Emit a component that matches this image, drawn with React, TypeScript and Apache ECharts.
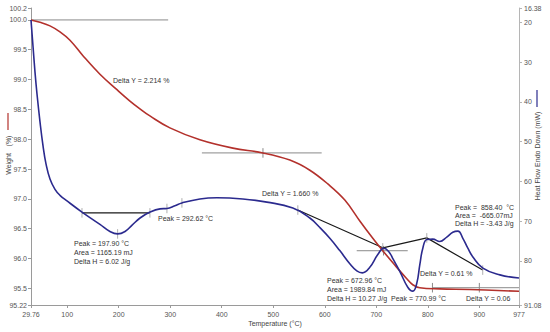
import React, { useEffect, useRef } from "react";
import * as echarts from "echarts";

// ---- Data ----
const TEMP_TICKS = [29.76, 100, 200, 300, 400, 500, 600, 700, 800, 900, 977];
const WEIGHT_TICKS = [95.22, 95.5, 96.0, 96.5, 97.0, 97.5, 98.0, 98.5, 99.0, 99.5, 100.0, 100.2];
const HEAT_TICKS = [16.38, 20, 30, 40, 50, 60, 70, 80, 91.08];

// Weight (%) vs temperature (°C)
const WEIGHT_DATA: [number, number][] = [
  [29.76, 100.0], [47.2, 99.96], [66.6, 99.9], [86, 99.8], [105.4, 99.66], [130.6, 99.4],
  [163.6, 99.09], [196.6, 98.83], [221.8, 98.64], [241.2, 98.51], [260.6, 98.39], [299.4, 98.19],
  [357.6, 97.99], [421.6, 97.85], [479.8, 97.77], [532.2, 97.65], [571, 97.48], [605.9, 97.25],
  [638.9, 96.98], [668, 96.63], [693.2, 96.34], [712.6, 96.13], [735.9, 95.89], [759.2, 95.66],
  [770.8, 95.56], [784.4, 95.51], [823.2, 95.49], [881.4, 95.48], [977, 95.45],
];

// Heat flow (mW) vs temperature (°C)
const HEAT_DATA: [number, number][] = [
  [29.76, 19.4], [33.64, 26.0], [37.52, 32.5], [41.4, 38.0], [47.22, 45.0], [53.04, 51.0],
  [58.86, 55.6], [66.62, 59.4], [76.32, 62.0], [86.02, 63.5], [99.6, 64.9], [128.7, 67.7],
  [163.6, 70.8], [183, 72.6], [197.9, 73.2], [212.3, 72.6], [226, 71.0], [241.4, 69.2],
  [260.8, 67.7], [280.2, 66.9], [293.6, 66.8], [309.1, 66.1], [322.7, 65.4], [357.6, 64.4],
  [390.6, 64.1], [441, 64.4], [487.6, 65.2], [538, 66.7], [571, 69.2], [590.4, 71.6],
  [609.8, 74.3], [629.2, 77.4], [648.6, 80.7], [662.2, 82.5], [672.96, 83.0], [687.4, 81.6],
  [702.9, 78.4], [714.6, 76.8], [724, 77.6], [733, 79.6], [745.6, 82.6], [761.1, 86.6],
  [770.99, 87.6], [778.6, 85.6], [784.4, 81.0], [790.3, 76.8], [798, 74.6], [809.6, 74.5],
  [823.2, 75.1], [836.8, 74.0], [848.5, 72.8], [858.4, 72.5], [868, 74.3], [877.7, 76.8],
  [887.5, 79.0], [906.9, 81.8], [939.9, 83.5], [977, 84.3],
];

// Weight-step annotation lines (weight axis)
const WEIGHT_STEP_LINES: [number, number][][] = [
  [[29.76, 100.0], [296, 100.0]],
  [[361.5, 97.77], [594, 97.77]],
  [[662, 96.13], [761, 96.13]],
  [[809, 95.51], [977, 95.51]],
];
const WEIGHT_STEP_TICKS: [number, number][] = [[480, 97.77], [714, 96.13], [809, 95.51], [900, 95.51]];

// Integration baselines (heat-flow axis)
const HEAT_BASELINES: [number, number][][] = [
  [[128.7, 67.9], [260.6, 67.9]],
  [[547.7, 67.2], [712.6, 76.7], [798, 74.2], [906.6, 82.3]],
];
const HEAT_MARKS: [number, number][] = [
  [128.7, 67.9], [260.6, 67.9], [197.9, 73.2], [293.6, 66.8], [322.7, 65.4],
  [547.7, 67.2], [712.6, 76.7], [798, 74.2], [906.6, 82.3],
];

const RED = "#B3312C";
const BLUE = "#2B2A8E";
const FONT = "Liberation Sans, Arial, sans-serif";

const fmtX = (v: number) => (Number.isInteger(v) ? String(v) : v.toFixed(2));
const fmtW = (v: number) => (Math.abs(v * 10 - Math.round(v * 10)) < 1e-6 ? v.toFixed(1) : v.toFixed(2));
const fmtH = (v: number) => (Number.isInteger(v) ? String(v) : v.toFixed(2));

function lineSeries(data: [number, number][], yAxisIndex: number, color: string, width = 1) {
  return {
    type: "line",
    data,
    yAxisIndex,
    symbol: "none",
    silent: true,
    lineStyle: { color, width },
    z: 3,
  };
}

export default function App() {
  const ref = useRef<HTMLDivElement>(null);

  useEffect(() => {
    if (!ref.current) return;
    const chart = echarts.init(ref.current, undefined, { renderer: "svg" });

    const series: any[] = [];
    WEIGHT_STEP_LINES.forEach((seg) => series.push(lineSeries(seg, 0, "#8a8a8a", 1)));
    WEIGHT_STEP_TICKS.forEach(([t, w]) =>
      series.push(lineSeries([[t, w + 0.08], [t, w - 0.08]], 0, "#8a8a8a", 1))
    );
    HEAT_BASELINES.forEach((seg) => series.push(lineSeries(seg, 1, "#1a1a1a", 1.2)));
    HEAT_MARKS.forEach(([t, h]) =>
      series.push(lineSeries([[t, h - 1.2], [t, h + 1.2]], 1, "#9a9a9a", 0.8))
    );
    series.push({
      type: "line",
      data: WEIGHT_DATA,
      yAxisIndex: 0,
      symbol: "none",
      smooth: 0.4,
      silent: true,
      lineStyle: { color: RED, width: 1.6 },
      z: 4,
    });
    series.push({
      type: "line",
      data: HEAT_DATA,
      yAxisIndex: 1,
      symbol: "none",
      smooth: 0.45,
      silent: true,
      lineStyle: { color: BLUE, width: 1.6 },
      z: 5,
    });

    const txt = (text: string, x: number, y: number, extra: any = {}) => ({
      type: "text",
      x,
      y,
      silent: true,
      style: {
        text,
        fill: "#333",
        fontSize: 7,
        fontFamily: FONT,
        verticalAlign: "middle",
        align: "left",
        ...extra,
      },
    });

    const axisLabel = { color: "#555", fontSize: 7, fontFamily: FONT };

    chart.setOption({
      animation: false,
      backgroundColor: "#ffffff",
      grid: { left: 31, right: 31, top: 8, bottom: 27, containLabel: false },
      xAxis: {
        type: "value",
        min: 29.76,
        max: 977,
        axisLine: { show: true, lineStyle: { color: "#9a9a9a" } },
        axisTick: { show: true, length: 3, customValues: TEMP_TICKS, lineStyle: { color: "#9a9a9a" } },
        axisLabel: { ...axisLabel, margin: 6, customValues: TEMP_TICKS, formatter: fmtX },
        splitLine: { show: false },
      },
      yAxis: [
        {
          type: "value",
          min: 95.22,
          max: 100.2,
          position: "left",
          axisLine: { show: true, lineStyle: { color: "#9a9a9a" } },
          axisTick: { show: true, length: 3, customValues: WEIGHT_TICKS, lineStyle: { color: "#9a9a9a" } },
          axisLabel: { ...axisLabel, margin: 4, customValues: WEIGHT_TICKS, formatter: fmtW },
          splitLine: { show: false },
        },
        {
          type: "value",
          min: 16.38,
          max: 91.08,
          inverse: true,
          position: "right",
          axisLine: { show: true, lineStyle: { color: "#b5b5b5" } },
          axisTick: { show: true, length: 3, customValues: HEAT_TICKS, lineStyle: { color: "#b5b5b5" } },
          axisLabel: { ...axisLabel, margin: 5, customValues: HEAT_TICKS, formatter: fmtH },
          splitLine: { show: false },
        },
      ],
      series,
      graphic: [
        txt("Delta Y = 2.214 %", 113, 80),
        txt("Delta Y = 1.660 %", 262, 193),
        txt("Peak = 292.62 °C", 158, 218),
        txt("Peak = 197.90 °C", 74, 243),
        txt("Area = 1165.19 mJ", 74, 252),
        txt("Delta H = 6.02 J/g", 74, 261),
        txt("Peak = 672.96 °C", 327, 280),
        txt("Area = 1989.84 mJ", 327, 289),
        txt("Delta H = 10.27 J/g", 327, 298),
        txt("Peak = 770.99 °C", 391, 298),
        txt("Delta Y = 0.61 %", 420, 273),
        txt("Delta Y = 0.06", 466, 298),
        txt("Peak =  858.40  °C", 455, 207),
        txt("Area =  -665.07mJ", 455, 215),
        txt("Delta H = -3.43 J/g", 455, 223),
        txt("Temperature (°C)", 275, 323, { align: "center", fill: "#444" }),
        {
          type: "text",
          x: 8,
          y: 164,
          rotation: Math.PI / 2,
          silent: true,
          style: { text: "Weight", fill: "#444", fontSize: 7, fontFamily: FONT, align: "center", verticalAlign: "middle" },
        },
        {
          type: "text",
          x: 8,
          y: 141,
          rotation: Math.PI / 2,
          silent: true,
          style: { text: "(%)", fill: "#444", fontSize: 7, fontFamily: FONT, align: "center", verticalAlign: "middle" },
        },
        {
          type: "line",
          silent: true,
          shape: { x1: 8, y1: 113, x2: 8, y2: 130 },
          style: { stroke: RED, lineWidth: 1.2 },
        },
        {
          type: "text",
          x: 537,
          y: 156,
          rotation: Math.PI / 2,
          silent: true,
          style: {
            text: "Heat Flow Endo Down (mW)",
            fill: "#444",
            fontSize: 7,
            fontFamily: FONT,
            align: "center",
            verticalAlign: "middle",
          },
        },
        {
          type: "line",
          silent: true,
          shape: { x1: 537, y1: 90, x2: 537, y2: 107 },
          style: { stroke: BLUE, lineWidth: 1.2 },
        },
      ],
    });

    return () => chart.dispose();
  }, []);

  return (
    <div
      ref={ref}
      style={{ position: "absolute", left: 0, top: 0, width: 550, height: 332, background: "#fff" }}
    />
  );
}
